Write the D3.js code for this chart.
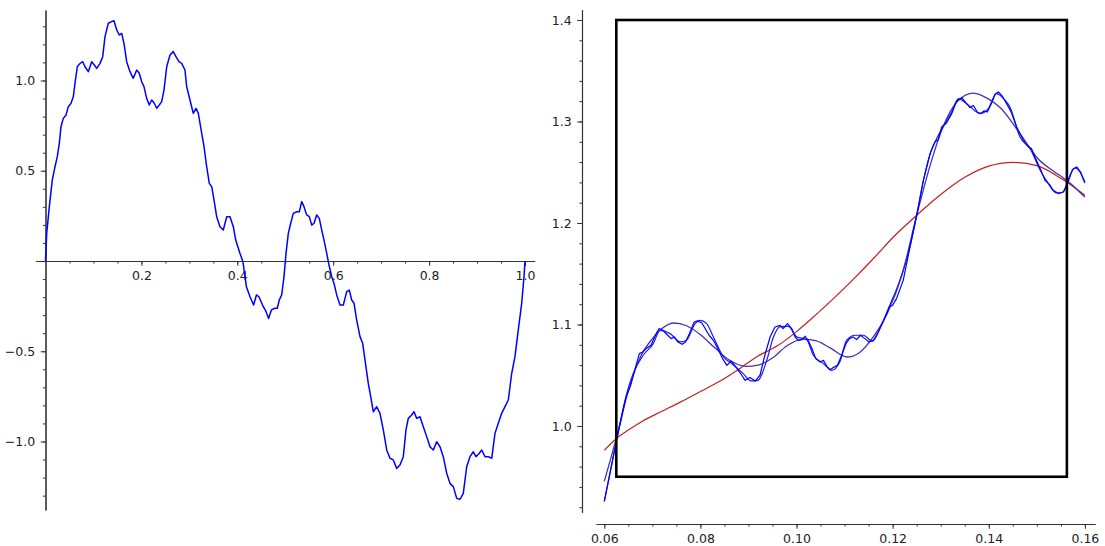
<!DOCTYPE html>
<html><head><meta charset="utf-8">
<script src="https://cdn.jsdelivr.net/npm/d3@7"></script>
<style>body{margin:0;background:#fff}svg{display:block}</style>
</head><body>
<svg id="c" width="1105" height="546"></svg>
<script>
// ---------- Left panel data ----------
const leftX = [0.0000,0.0025,0.0080,0.0142,0.0198,0.0246,0.0288,0.0323,0.0371,0.0428,0.0476,0.0532,0.0580,0.0615,0.0663,0.0720,0.0776,0.0824,0.0893,0.0963,0.1018,0.1068,0.1137,0.1193,0.1241,0.1310,0.1380,0.1429,0.1485,0.1539,0.1589,0.1637,0.1693,0.1762,0.1831,0.1902,0.1956,0.2006,0.2054,0.2110,0.2165,0.2214,0.2269,0.2318,0.2373,0.2423,0.2471,0.2528,0.2596,0.2665,0.2721,0.2784,0.2840,0.2909,0.2944,0.3013,0.3082,0.3139,0.3187,0.3258,0.3306,0.3362,0.3416,0.3466,0.3514,0.3570,0.3639,0.3708,0.3779,0.3848,0.3917,0.3967,0.4056,0.4117,0.4190,0.4265,0.4340,0.4399,0.4451,0.4526,0.4600,0.4652,0.4711,0.4786,0.4834,0.4876,0.4926,0.4974,0.5016,0.5064,0.5114,0.5168,0.5239,0.5293,0.5343,0.5391,0.5447,0.5502,0.5552,0.5600,0.5656,0.5710,0.5760,0.5808,0.5865,0.5912,0.5969,0.6017,0.6073,0.6142,0.6211,0.6282,0.6336,0.6386,0.6434,0.6490,0.6559,0.6615,0.6663,0.6732,0.6782,0.6836,0.6907,0.6976,0.7045,0.7116,0.7185,0.7253,0.7324,0.7393,0.7462,0.7518,0.7566,0.7637,0.7685,0.7741,0.7810,0.7879,0.7950,0.8019,0.8088,0.8158,0.8227,0.8296,0.8367,0.8436,0.8505,0.8576,0.8645,0.8713,0.8784,0.8853,0.8922,0.8978,0.9047,0.9097,0.9166,0.9235,0.9306,0.9374,0.9443,0.9514,0.9583,0.9652,0.9723,0.9791,0.9860,0.9931,0.9979,1.0000];
const leftY = [0.000,0.153,0.301,0.449,0.522,0.578,0.652,0.744,0.790,0.809,0.855,0.874,0.910,0.984,1.076,1.095,1.104,1.076,1.049,1.104,1.086,1.067,1.095,1.132,1.243,1.317,1.326,1.331,1.280,1.252,1.261,1.206,1.104,1.049,1.012,1.058,1.040,0.993,0.966,0.901,0.864,0.892,0.874,0.846,0.864,0.883,0.947,1.076,1.141,1.160,1.132,1.104,1.095,1.058,0.966,0.892,0.818,0.846,0.818,0.707,0.633,0.522,0.430,0.412,0.338,0.245,0.190,0.172,0.245,0.245,0.190,0.116,0.042,-0.004,-0.142,-0.198,-0.244,-0.188,-0.198,-0.244,-0.281,-0.318,-0.271,-0.262,-0.262,-0.216,-0.188,-0.087,0.042,0.153,0.209,0.264,0.273,0.273,0.329,0.301,0.255,0.246,0.199,0.209,0.255,0.236,0.172,0.116,0.042,-0.022,-0.087,-0.124,-0.188,-0.244,-0.244,-0.170,-0.161,-0.216,-0.234,-0.327,-0.419,-0.456,-0.548,-0.678,-0.752,-0.835,-0.807,-0.844,-0.936,-1.047,-1.093,-1.102,-1.149,-1.130,-1.084,-0.936,-0.872,-0.853,-0.835,-0.872,-0.863,-0.918,-0.973,-1.029,-1.047,-1.001,-1.029,-1.084,-1.176,-1.232,-1.250,-1.315,-1.320,-1.287,-1.140,-1.084,-1.057,-1.084,-1.065,-1.047,-1.084,-1.084,-1.093,-0.955,-0.899,-0.844,-0.807,-0.770,-0.622,-0.530,-0.382,-0.234,-0.087,0.000];
const leftXTicks = [0.2,0.4,0.6,0.8,1.0];
const leftYTicks = [-1.0,-0.5,0.5,1.0];

// ---------- Right panel data ----------
const redX = [0.0600,0.0627,0.0650,0.0680,0.0720,0.0760,0.0800,0.0840,0.0880,0.0920,0.0960,0.1000,0.1040,0.1080,0.1120,0.1160,0.1200,0.1250,0.1300,0.1350,0.1400,0.1450,0.1500,0.1550,0.1600];
const redY = [0.9760,0.9885,0.9960,1.0050,1.0145,1.0240,1.0340,1.0440,1.0560,1.0690,1.0790,1.0930,1.1095,1.1270,1.1455,1.1650,1.1855,1.2076,1.2280,1.2450,1.2560,1.2597,1.2565,1.2440,1.2273];

const purpleX = [0.0600,0.0625,0.0650,0.0675,0.0700,0.0720,0.0745,0.0770,0.0800,0.0830,0.0860,0.0895,0.0920,0.0950,0.0980,0.1015,0.1040,0.1070,0.1105,0.1130,0.1160,0.1190,0.1220,0.1250,0.1280,0.1305,0.1335,0.1368,0.1400,0.1425,0.1465,0.1505,0.1535,0.1562,0.1600];
const purpleY = [0.9455,0.9880,1.0350,1.0680,1.0860,1.0960,1.1015,1.0990,1.0900,1.0770,1.0650,1.0588,1.0600,1.0670,1.0790,1.0855,1.0840,1.0770,1.0680,1.0720,1.0880,1.1120,1.1500,1.2076,1.2600,1.2950,1.3200,1.3280,1.3220,1.3130,1.2880,1.2620,1.2510,1.2420,1.2256];

const blueX = [0.0600,0.0627,0.0643,0.0660,0.0681,0.0702,0.0716,0.0737,0.0758,0.0771,0.0789,0.0799,0.0813,0.0827,0.0848,0.0865,0.0889,0.0905,0.0920,0.0938,0.0952,0.0966,0.0983,0.1000,0.1021,0.1035,0.1056,0.1073,0.1090,0.1104,0.1122,0.1139,0.1158,0.1177,0.1194,0.1215,0.1236,0.1250,0.1264,0.1278,0.1295,0.1309,0.1323,0.1337,0.1354,0.1382,0.1399,0.1416,0.1434,0.1444,0.1465,0.1486,0.1507,0.1524,0.1541,0.1555,0.1569,0.1579,0.1590,0.1600];
const blueY = [0.9258,0.9892,1.0253,1.0516,1.0697,1.0812,1.0943,1.0910,1.0828,1.0844,1.1009,1.1041,1.1009,1.0877,1.0680,1.0615,1.0516,1.0445,1.0450,1.0647,1.0877,1.0980,1.0982,1.0880,1.0850,1.0697,1.0615,1.0549,1.0630,1.0844,1.0894,1.0894,1.0836,1.1000,1.1190,1.1435,1.1764,1.2076,1.2420,1.2684,1.2864,1.2979,1.3094,1.3226,1.3176,1.3078,1.3127,1.3275,1.3209,1.3143,1.2847,1.2733,1.2519,1.2388,1.2296,1.2305,1.2470,1.2542,1.2502,1.2404];

const fineX = [0.0600,0.0627,0.0645,0.0655,0.0666,0.0673,0.0680,0.0687,0.0697,0.0708,0.0714,0.0722,0.0732,0.0739,0.0746,0.0753,0.0762,0.0769,0.0777,0.0787,0.0794,0.0803,0.0812,0.0818,0.0827,0.0836,0.0846,0.0855,0.0864,0.0873,0.0886,0.0893,0.0903,0.0914,0.0924,0.0934,0.0945,0.0955,0.0966,0.0972,0.0981,0.0990,0.0997,0.1004,0.1011,0.1018,0.1024,0.1032,0.1040,0.1049,0.1056,0.1063,0.1070,0.1076,0.1085,0.1094,0.1103,0.1110,0.1118,0.1125,0.1133,0.1142,0.1151,0.1160,0.1170,0.1180,0.1193,0.1200,0.1208,0.1222,0.1236,0.1250,0.1264,0.1278,0.1288,0.1295,0.1302,0.1312,0.1323,0.1333,0.1344,0.1353,0.1361,0.1368,0.1376,0.1383,0.1390,0.1397,0.1406,0.1413,0.1420,0.1427,0.1437,0.1446,0.1458,0.1472,0.1482,0.1489,0.1496,0.1507,0.1517,0.1526,0.1534,0.1545,0.1555,0.1565,0.1574,0.1583,0.1591,0.1596,0.1600];
const fineY = [0.9258,0.9892,1.0280,1.0400,1.0598,1.0713,1.0729,1.0763,1.0795,1.0910,1.0960,1.0943,1.0894,1.0861,1.0877,1.0828,1.0805,1.0828,1.0910,1.1025,1.1035,1.1015,1.0943,1.0894,1.0844,1.0763,1.0664,1.0598,1.0640,1.0588,1.0500,1.0450,1.0477,1.0443,1.0500,1.0697,1.0877,1.0975,1.0992,1.0959,1.1009,1.0960,1.0877,1.0844,1.0851,1.0884,1.0844,1.0763,1.0664,1.0630,1.0647,1.0588,1.0556,1.0575,1.0598,1.0697,1.0812,1.0861,1.0877,1.0851,1.0894,1.0861,1.0828,1.0844,1.0926,1.1025,1.1172,1.1190,1.1255,1.1435,1.1764,1.2076,1.2420,1.2684,1.2798,1.2822,1.2946,1.2985,1.3078,1.3202,1.3235,1.3182,1.3137,1.3157,1.3094,1.3078,1.3104,1.3094,1.3182,1.3268,1.3291,1.3258,1.3176,1.3100,1.2946,1.2815,1.2749,1.2733,1.2650,1.2536,1.2421,1.2381,1.2322,1.2290,1.2305,1.2404,1.2526,1.2552,1.2502,1.2437,1.2394];

const rightXTicks = [0.06,0.08,0.10,0.12,0.14,0.16];
const rightYTicks = [1.0,1.1,1.2,1.3,1.4];
const boxX = [0.0625, 0.15625];
const boxY = [0.95, 1.4];

// ---------- drawing ----------
const svg = d3.select("#c");
const FONT = "DejaVu Sans, sans-serif";
const AX = "#333";

function range(a, b, s) { const r = []; for (let v = a; v <= b + 1e-9; v += s) r.push(+v.toFixed(6)); return r; }
function styleAxis(g, fs) {
  g.select(".domain").attr("stroke", AX).attr("stroke-width", 1.1);
  g.selectAll(".tick line").attr("stroke", AX).attr("stroke-width", 1);
  g.selectAll(".tick text").attr("fill", "#222").style("font-family", FONT).style("font-size", fs + "px");
}

// Left panel scales
const xL = d3.scaleLinear().domain([-0.02, 1.02]).range([45.5 - 0.02 * 479.5, 45.5 + 1.02 * 479.5]);
const yL = d3.scaleLinear().domain([-1.38, 1.39]).range([261 + 1.38 * 180.5, 261 - 1.39 * 180.5]);

svg.append("g").attr("transform", `translate(0,${yL(0)})`)
  .call(d3.axisBottom(xL).tickValues(range(0.05, 1.0, 0.05)).tickSize(2.6).tickSizeOuter(0).tickFormat(""))
  .call(g => styleAxis(g, 12.5));
svg.append("g").attr("transform", `translate(0,${yL(0)})`)
  .call(d3.axisBottom(xL).tickValues(leftXTicks).tickSize(4.8).tickSizeOuter(0).tickPadding(5.5).tickFormat(d3.format(".1f")))
  .call(g => styleAxis(g, 12.5));
svg.append("g").attr("transform", `translate(${xL(0)},0)`)
  .call(d3.axisLeft(yL).tickValues(range(-1.3, 1.3, 0.1)).tickSize(2.6).tickSizeOuter(0).tickFormat(""))
  .call(g => styleAxis(g, 12.5));
svg.append("g").attr("transform", `translate(${xL(0)},0)`)
  .call(d3.axisLeft(yL).tickValues(leftYTicks).tickSize(4.8).tickSizeOuter(0).tickPadding(5.5).tickFormat(d3.format(".1f")))
  .call(g => styleAxis(g, 12.5));

const leftData = leftX.map((x, i) => [x, leftY[i]]);
svg.append("path").datum(leftData)
  .attr("fill", "none").attr("stroke", "#0000ff").attr("stroke-width", 1.5).attr("stroke-linejoin", "round")
  .attr("d", d3.line().x(d => xL(d[0])).y(d => yL(d[1])));

// Right panel scales
const xR = d3.scaleLinear().domain([0.0583, 0.1621]).range([604.3 - 0.0017 * 4806, 604.3 + 0.1021 * 4806]);
const yR = d3.scaleLinear().domain([0.915, 1.41]).range([20 + 0.485 * 1015, 20 - 0.01 * 1015]);

svg.append("g").attr("transform", `translate(0,524)`)
  .call(d3.axisBottom(xR).tickValues(range(0.06, 0.16, 0.005)).tickSize(2.6).tickSizeOuter(0).tickFormat(""))
  .call(g => styleAxis(g, 12.5));
svg.append("g").attr("transform", `translate(0,524)`)
  .call(d3.axisBottom(xR).tickValues(rightXTicks).tickSize(4.8).tickSizeOuter(0).tickPadding(5.5).tickFormat(d3.format(".2f")))
  .call(g => styleAxis(g, 12.5));
svg.append("g").attr("transform", `translate(582,0)`)
  .call(d3.axisLeft(yR).tickValues(range(0.92, 1.40, 0.02)).tickSize(2.6).tickSizeOuter(0).tickFormat(""))
  .call(g => styleAxis(g, 12.5));
svg.append("g").attr("transform", `translate(582,0)`)
  .call(d3.axisLeft(yR).tickValues(rightYTicks).tickSize(4.8).tickSizeOuter(0).tickPadding(5.5).tickFormat(d3.format(".1f")))
  .call(g => styleAxis(g, 12.5));

const series = [
  { x: redX, y: redY, c: "#c81e1e", w: 1.2, curve: d3.curveMonotoneX },
  { x: purpleX, y: purpleY, c: "#4433b0", w: 1.3, curve: d3.curveMonotoneX },
  { x: blueX, y: blueY, c: "#1a1aee", w: 1.2, curve: d3.curveMonotoneX },
  { x: fineX, y: fineY, c: "#0000ff", w: 1.2, curve: d3.curveLinear }
];
series.forEach(s => {
  svg.append("path").datum(s.x.map((x, i) => [x, s.y[i]]))
    .attr("fill", "none").attr("stroke", s.c).attr("stroke-width", s.w).attr("stroke-linejoin", "round")
    .attr("d", d3.line().curve(s.curve).x(d => xR(d[0])).y(d => yR(d[1])));
});

svg.append("rect")
  .attr("x", xR(boxX[0])).attr("y", yR(boxY[1]))
  .attr("width", xR(boxX[1]) - xR(boxX[0])).attr("height", yR(boxY[0]) - yR(boxY[1]))
  .attr("fill", "none").attr("stroke", "#000").attr("stroke-width", 2.6);
</script>
</body></html>
